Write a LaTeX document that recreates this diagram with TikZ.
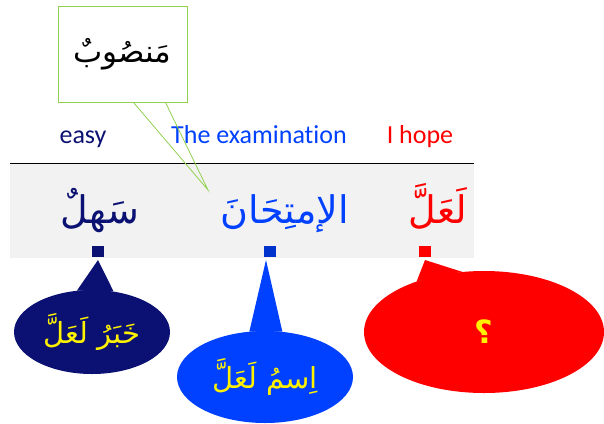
\documentclass[tikz,border=0pt]{standalone}
\usepackage{fontspec}
\setmainfont[Ligatures=NoCommon]{Carlito}
\newfontfamily\arabicfont[Script=Arabic]{DejaVu Sans}
\TeXXeTstate=1
\usetikzlibrary{shapes.geometric}
\definecolor{navyc}{HTML}{0A1172}
\definecolor{bluec}{HTML}{0040FF}
\definecolor{bluesq}{HTML}{0033CC}
\definecolor{redc}{HTML}{FF0000}
\definecolor{yellowc}{HTML}{FFF200}
\definecolor{greenc}{HTML}{92D050}
\definecolor{bandc}{HTML}{F2F2F2}
\tikzset{
  gloss/.style={font=\fontsize{26}{30}\selectfont, inner sep=0pt, anchor=base},
  word/.style={font=\arabicfont\fontsize{38}{44}\selectfont, inner sep=0pt, anchor=base},
  sq/.style={rectangle, minimum width=12pt, minimum height=11pt, inner sep=0pt},
  bubble/.style={ellipse, inner sep=0pt, text=yellowc, font=\arabicfont\fontsize{29}{34}\selectfont},
}
\begin{document}
\begin{tikzpicture}[x=1pt,y=-1pt]
\useasboundingbox (0,0) rectangle (604,423);
% band
\fill[bandc] (10,163) rectangle (474,258);
\draw[line width=0.8pt] (10,163) -- (474,163);
% glosses
\node[gloss, text=navyc] (g1) at (83,143) {easy};
\node[gloss, text=bluec] (g2) at (259,143) {The examination};
\node[gloss, text=redc] (g3) at (420,143) {I hope};
% arabic words
\node[word, text=navyc] (w1) at (100,223) {\beginR سَهلٌ\endR};
\node[word, text=bluec] (w2) at (285,223) {\beginR الإمتِحَانَ\endR};
\node[word, text=redc] (w3) at (438,223) {\beginR لَعَلَّ\endR};
% squares
\node[sq, fill=navyc] (s1) at (98,251.5) {};
\node[sq, fill=bluesq] (s2) at (270,251.5) {};
\node[sq, fill=redc] (s3) at (425,251.5) {};
\coordinate (t1) at (98,260);
\coordinate (t2) at (266,260);
\coordinate (t3) at (425,260);
% bubbles
\node[bubble, fill=navyc, minimum width=156pt, minimum height=84pt] (e1) at (92,332) {\beginR خَبَرُ لَعَلَّ\endR};
\fill[navyc] (t1) -- (e1.110) -- (e1.62) -- cycle;
\node[bubble, fill=bluec, minimum width=176pt, minimum height=92pt] (e2) at (265,377) {\beginR اِسمُ لَعَلَّ\endR};
\fill[bluec] (t2) -- (e2.109) -- (e2.69) -- cycle;
\node[bubble, fill=redc, minimum width=240pt, minimum height=122pt, font=\arabicfont\bfseries\fontsize{32}{36}\selectfont] (e3) at (484,332) {\beginR ؟\endR};
\fill[redc] (t3) -- (e3.143) -- (e3.110) -- cycle;
% callout
\node[draw=greenc, line width=0.9pt, fill=white, minimum width=129pt, minimum height=96pt, inner sep=0pt,
      font=\arabicfont\fontsize{31}{36}\selectfont] (c) at (122.5,54) {\beginR مَنصُوبٌ\endR};
\coordinate (ct) at (208,190);
\draw[greenc, line width=0.8pt] ([xshift=11pt]c.south) -- (ct) -- ([xshift=43pt]c.south);
\end{tikzpicture}
\end{document}
